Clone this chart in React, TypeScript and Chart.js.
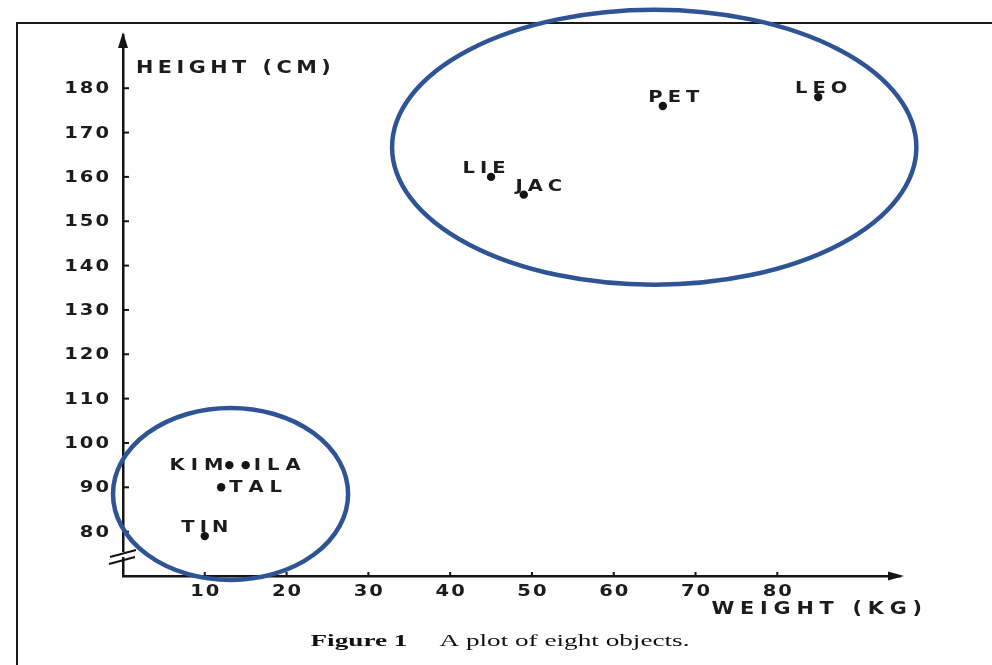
import { useEffect, useRef } from 'react';
import { Chart, registerables } from 'chart.js';

Chart.register(...registerables);

// ---- data ----
const objectNames = ['ILA', 'JAC', 'KIM', 'LIE', 'LEO', 'PET', 'TAL', 'TIN'];
const weightKg = [15, 49, 13, 45, 85, 66, 12, 10];
const heightCm = [95, 156, 95, 160, 178, 176, 90, 79];
const yTickValues = [80, 90, 100, 110, 120, 130, 140, 150, 160, 170, 180];
const xTickValues = [10, 20, 30, 40, 50, 60, 70, 80];
const xAxisTitle = 'WEIGHT (KG)';
const yAxisTitle = 'HEIGHT (CM)';
const captionBold = 'Figure 1';
const captionText = 'A plot of eight objects.';

// label placement (style)
const labelSides = ['right', 'above', 'left', 'above', 'above', 'above', 'right', 'above'];
const labelShift = [0, 15, 0, -7, 3, 11, 0, 0];

// cluster ellipses in data units
const ellipseCenterX = [64.95, 13.15];
const ellipseCenterY = [166.7, 88.5];
const ellipseRadiusX = [32.05, 14.37];
const ellipseRadiusY = [31.0, 19.4];

const INK = '#141414';
const TEXT = '#1c1c1c';
const BLUE = '#2F5496';
const SANS = '"DejaVu Sans", sans-serif';
const STRETCH = 1.22;

function spacedWidth(ctx: CanvasRenderingContext2D, text: string, sp: number) {
  let w = 0;
  for (const ch of text) w += ctx.measureText(ch).width * STRETCH + sp;
  return w - sp;
}

function drawSpaced(
  ctx: CanvasRenderingContext2D,
  text: string,
  x: number,
  y: number,
  sp: number,
  align: 'left' | 'right' | 'center'
) {
  const w = spacedWidth(ctx, text, sp);
  let cx = align === 'left' ? x : align === 'right' ? x - w : x - w / 2;
  ctx.textAlign = 'left';
  for (const ch of text) {
    ctx.save();
    ctx.translate(cx, y);
    ctx.scale(STRETCH, 1);
    ctx.fillText(ch, 0, 0);
    ctx.restore();
    cx += ctx.measureText(ch).width * STRETCH + sp;
  }
}

const decorPlugin = {
  id: 'decor',
  afterDraw(chart: any) {
    const ctx: CanvasRenderingContext2D = chart.ctx;
    const xs = chart.scales.x;
    const ys = chart.scales.y;
    const area = chart.chartArea;
    ctx.save();

    // frame
    ctx.strokeStyle = '#1a1a1a';
    ctx.lineWidth = 2;
    ctx.beginPath();
    ctx.moveTo(17, chart.height + 2);
    ctx.lineTo(17, 23);
    ctx.lineTo(chart.width + 2, 23);
    ctx.stroke();

    ctx.fillStyle = INK;
    ctx.strokeStyle = INK;

    // arrowheads
    const ax = area.left;
    ctx.beginPath();
    ctx.moveTo(ax, area.top - 3);
    ctx.lineTo(ax - 5, area.top + 13);
    ctx.lineTo(ax + 5, area.top + 13);
    ctx.closePath();
    ctx.fill();
    const by = area.bottom;
    ctx.beginPath();
    ctx.moveTo(area.right + 4, by);
    ctx.lineTo(area.right - 12, by - 4.5);
    ctx.lineTo(area.right - 12, by + 4.5);
    ctx.closePath();
    ctx.fill();

    // tick marks
    ctx.lineWidth = 2;
    for (const v of yTickValues) {
      const py = ys.getPixelForValue(v);
      ctx.beginPath();
      ctx.moveTo(ax, py);
      ctx.lineTo(ax + 6, py);
      ctx.stroke();
    }
    for (const v of xTickValues) {
      const px = xs.getPixelForValue(v);
      ctx.beginPath();
      ctx.moveTo(px, by);
      ctx.lineTo(px, by - 4);
      ctx.stroke();
    }

    // axis break marks
    ctx.fillStyle = '#ffffff';
    ctx.fillRect(ax - 3, by - 24, 6, 5);
    ctx.fillStyle = INK;
    ctx.lineWidth = 2.2;
    ctx.beginPath();
    ctx.moveTo(ax - 13, by - 19);
    ctx.lineTo(ax + 13, by - 26);
    ctx.moveTo(ax - 14, by - 12);
    ctx.lineTo(ax + 12, by - 19);
    ctx.stroke();

    ctx.fillStyle = TEXT;
    // tick labels
    ctx.font = `bold 16px ${SANS}`;
    ctx.textBaseline = 'middle';
    for (const v of yTickValues) {
      drawSpaced(ctx, String(v), ax - 14, ys.getPixelForValue(v) + 1, 2, 'right');
    }
    ctx.textBaseline = 'top';
    for (const v of xTickValues) {
      drawSpaced(ctx, String(v), xs.getPixelForValue(v), by + 8, 2, 'center');
    }

    // axis titles
    ctx.font = `bold 17px ${SANS}`;
    ctx.textBaseline = 'alphabetic';
    drawSpaced(ctx, yAxisTitle, ax + 13, area.top + 38, 4.5, 'left');
    drawSpaced(ctx, xAxisTitle, area.right + 22, by + 38, 5.8, 'right');

    // point labels
    ctx.font = `bold 16px ${SANS}`;
    objectNames.forEach((name, i) => {
      const px = xs.getPixelForValue(weightKg[i]);
      const py = ys.getPixelForValue(heightCm[i]);
      const side = labelSides[i];
      if (side === 'left') {
        ctx.textBaseline = 'middle';
        drawSpaced(ctx, name, px - 6, py + 1, 6, 'right');
      } else if (side === 'right') {
        ctx.textBaseline = 'middle';
        drawSpaced(ctx, name, px + 8, py + 1, 6, 'left');
      } else {
        ctx.textBaseline = 'alphabetic';
        drawSpaced(ctx, name, px + labelShift[i], py - 4, 5, 'center');
      }
    });

    // cluster ellipses
    ctx.strokeStyle = BLUE;
    ctx.lineWidth = 4.5;
    for (let i = 0; i < ellipseCenterX.length; i++) {
      const cx = xs.getPixelForValue(ellipseCenterX[i]);
      const cy = ys.getPixelForValue(ellipseCenterY[i]);
      const rx = Math.abs(xs.getPixelForValue(ellipseCenterX[i] + ellipseRadiusX[i]) - cx);
      const ry = Math.abs(ys.getPixelForValue(ellipseCenterY[i] + ellipseRadiusY[i]) - cy);
      ctx.beginPath();
      ctx.ellipse(cx, cy, rx, ry, 0, 0, Math.PI * 2);
      ctx.stroke();
    }

    // caption
    const stretch = 1.6;
    ctx.fillStyle = '#111';
    ctx.textBaseline = 'alphabetic';
    ctx.textAlign = 'left';
    ctx.font = `bold 17px "Liberation Serif", serif`;
    const w1 = ctx.measureText(captionBold).width * stretch;
    ctx.font = `17px "Liberation Serif", serif`;
    const w2 = ctx.measureText(captionText).width * stretch;
    const gap = 32;
    const center = chart.width / 2 + 4;
    const start = center - (w1 + gap + w2) / 2;
    const base = by + 70;
    ctx.save();
    ctx.translate(start, base);
    ctx.scale(stretch, 1);
    ctx.font = `bold 17px "Liberation Serif", serif`;
    ctx.fillText(captionBold, 0, 0);
    ctx.restore();
    ctx.save();
    ctx.translate(start + w1 + gap, base);
    ctx.scale(stretch, 1);
    ctx.font = `17px "Liberation Serif", serif`;
    ctx.fillText(captionText, 0, 0);
    ctx.restore();

    ctx.restore();
  },
};

export default function App() {
  const ref = useRef<HTMLCanvasElement | null>(null);
  useEffect(() => {
    if (!ref.current) return;
    const chart = new Chart(ref.current, {
      type: 'scatter',
      data: {
        datasets: [
          {
            data: weightKg.map((w, i) => ({ x: w, y: heightCm[i] })),
            pointRadius: 4.2,
            pointBackgroundColor: INK,
            pointBorderWidth: 0,
            backgroundColor: INK,
          },
        ],
      },
      options: {
        animation: false,
        responsive: false,
        maintainAspectRatio: false,
        layout: { padding: { left: 115, right: 92, top: 35, bottom: 81 } },
        plugins: { legend: { display: false }, tooltip: { enabled: false } },
        scales: {
          x: {
            type: 'linear',
            min: 0,
            max: 95,
            ticks: { display: false },
            grid: { display: false },
            border: { display: true, color: INK, width: 2.5 },
          },
          y: {
            type: 'linear',
            min: 70,
            max: 192,
            ticks: { display: false },
            grid: { display: false },
            border: { display: true, color: INK, width: 2.5 },
          },
        },
      },
      plugins: [decorPlugin],
    });
    return () => chart.destroy();
  }, []);
  return (
    <div style={{ position: 'fixed', left: 0, top: 0, width: 992, height: 665, background: '#fff' }}>
      <canvas ref={ref} width={992} height={665} style={{ display: 'block' }} />
    </div>
  );
}
